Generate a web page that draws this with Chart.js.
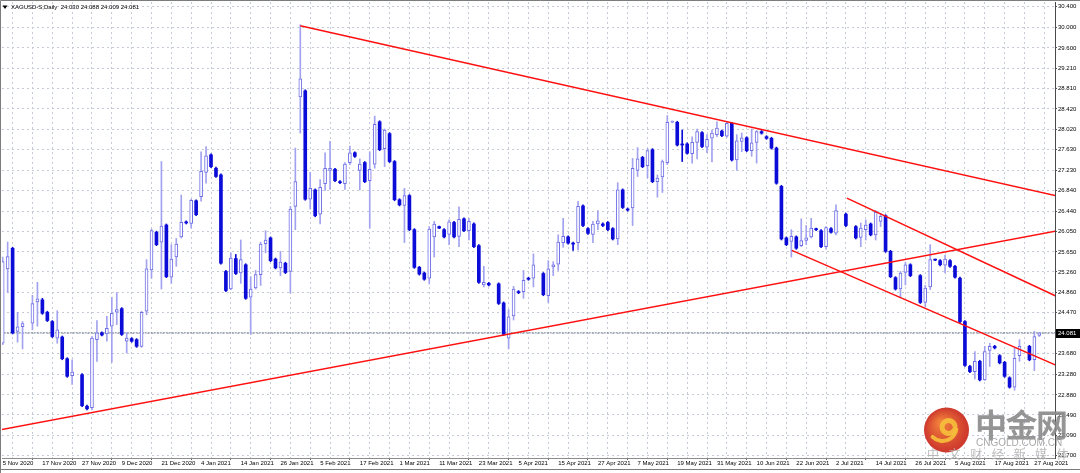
<!DOCTYPE html>
<html>
<head>
<meta charset="utf-8">
<script src="https://cdn.jsdelivr.net/npm/chart.js@4.4.0/dist/chart.umd.min.js"></script>
<style>
  html, body { margin: 0; padding: 0; background: #fff; }
  #wrap { width: 1080px; height: 473px; }
</style>
</head>
<body>
<div id="wrap"><canvas id="xagChart" width="1080" height="473"></canvas></div>
<script>
// XAGUSD-S daily bars, one entry per bar (null = no bar visible)
const opens = [
  23.88, 25.32, 25.72, 24.11, 24.20, null, 24.27, 24.68, 24.72, 24.48,
  24.30, 23.98, 24.00, 23.58, 23.25, null, 23.27, 22.66, 22.63, 23.95,
  24.08, 24.06, 24.21, 24.48, 24.55, 23.92, 23.97, 23.95, 23.82, 24.50,
  25.30, 26.03, 25.84, 26.17, 25.16, 25.55, 25.94, 26.23, 26.20, 26.64,
  26.72, 27.19, 27.53, 27.27, 27.14, 25.27, 24.93, 25.52, 25.24, 25.40,
  24.77, 24.95, 25.21, 25.81, 25.92, 25.51, 25.34, 25.43, 25.27, 26.53,
  28.65, 28.77, 26.67, 26.85, 26.38, 26.97, 27.23, 27.25, 27.01, 26.97,
  27.38, 27.57, 27.23, 27.38, 27.03, 27.35, 28.17, 27.65, 27.94, 27.40,
  26.66, 26.55, 26.74, 26.08, 25.35, 25.24, 25.14, 25.94, 26.14, 26.08,
  25.99, 26.22, 25.95, 26.29, 26.06, 26.19, 25.77, 25.01, 25.04, null,
  25.03, 24.66, 23.98, 24.41, 24.88, 24.88, 25.14, 25.14, null, 25.23,
  24.80, 25.36, 25.41, 25.83, 25.94, 25.82, 25.83, 26.54, 26.10, 25.99,
  26.19, 26.19, 26.22, 26.10, 25.90, 26.85, 26.48, 26.50, 27.23, 27.48,
  27.32, 27.63, 27.01, 27.10, 27.38, 28.16, 28.16, 27.74, 27.74, 27.55,
  27.77, 27.96, 27.68, 27.85, 27.92, 27.99, 27.89, 28.14, 27.43, 27.79,
  27.86, 27.61, 27.77, 27.98, 27.88, 27.85, 27.66, 26.92, 25.92, 25.85,
  25.94, 25.77, 25.87, 25.94, 26.09, 26.06, 25.75, 26.10, 26.01, null,
  26.38, null, 26.14, 25.93, 26.08, 26.19, 25.98, 26.24, 26.35, 25.66,
  25.15, 24.93, 25.25, 25.40, null, 25.19, 24.67, 24.97, 25.50, 25.48,
  25.39, 25.48, 25.37, 25.14, 24.30, 23.43, 23.33, 23.53, 23.17, 23.74,
  23.82, 23.64, 23.51, 23.21, 23.03, 23.64, null, 23.82, 23.56, 24.030
];
const highs = [
  25.55, 25.84, 25.74, 24.48, 24.30, null, 24.81, 25.06, 24.75, 24.50,
  24.32, 24.51, 24.02, 23.60, 23.56, null, 23.29, 22.68, 24.01, 24.32,
  24.10, 24.40, 24.77, 24.86, 24.57, 24.08, 23.99, 23.97, 24.50, 25.50,
  26.09, 26.05, 27.40, 26.19, 25.79, 25.91, 26.75, 26.25, 26.67, 26.66,
  27.59, 27.69, 27.55, 27.29, 27.16, 25.29, 25.63, 25.60, 25.88, 25.42,
  25.17, 25.29, 25.84, 26.06, 25.94, 25.53, 25.66, 25.45, 26.53, 27.66,
  30.05, 28.79, 27.19, 26.87, 27.05, 27.57, 27.79, 27.27, 27.03, 27.38,
  27.70, 27.59, 27.45, 27.40, 27.59, 28.28, 28.19, 28.03, 27.96, 27.42,
  26.68, 26.88, 26.76, 26.10, 25.37, 25.26, 26.14, 26.24, 26.15, 26.10,
  26.27, 26.24, 26.52, 26.31, 26.30, 26.21, 25.79, 25.37, 25.06, null,
  25.05, 24.68, 24.53, 24.98, 24.90, 25.29, 25.16, 25.61, null, 25.25,
  25.48, 25.46, 25.98, 26.30, 25.96, 25.84, 26.63, 26.56, 26.12, 26.24,
  26.45, 26.21, 26.24, 26.12, 26.99, 26.87, 26.50, 27.46, 27.67, 27.50,
  27.65, 27.65, 27.14, 27.43, 28.29, 28.19, 28.18, 28.01, 27.76, 27.88,
  28.03, 27.98, 27.92, 28.01, 28.17, 28.01, 28.16, 28.16, 27.92, 27.95,
  27.88, 28.03, 28.00, 28.00, 27.90, 27.87, 27.68, 26.94, 25.94, 26.08,
  25.96, 26.29, 26.16, 26.30, 26.11, 26.08, 26.14, 26.12, 26.56, null,
  26.40, null, 26.16, 26.21, 26.27, 26.21, 26.45, 26.40, 26.37, 25.68,
  25.17, 25.27, 25.45, 25.42, null, 25.21, 25.00, 25.79, 25.51, 25.50,
  25.59, 25.50, 25.39, 25.16, 24.32, 23.45, 23.72, 23.55, 23.82, 23.88,
  23.84, 23.66, 23.53, 23.23, 23.79, 23.95, null, 23.84, 24.11, 24.088
];
const lows = [
  23.85, 24.86, 24.06, 23.90, 23.77, null, 24.14, 24.21, 24.44, 24.30,
  23.99, 23.88, 23.56, 23.22, 23.08, null, 22.65, 22.59, 22.59, 23.53,
  24.02, 23.92, 23.51, 24.24, 24.03, 23.69, 23.90, 23.80, 23.80, 24.43,
  25.14, 25.77, 24.93, 25.15, 25.04, 25.37, 25.92, 26.19, 26.11, 26.35,
  26.63, 26.98, 27.28, 27.09, 25.41, 24.88, 24.92, 25.21, 25.04, 24.73,
  24.05, 24.93, 25.00, 25.63, 25.46, 25.32, 25.19, 25.23, 24.85, 26.08,
  27.95, 26.65, 26.48, 26.33, 26.19, 26.84, 26.86, 27.01, 26.97, 26.86,
  27.34, 27.48, 26.85, 26.99, 26.11, 27.27, 27.61, 27.30, 27.38, 26.64,
  26.54, 25.83, 26.06, 25.33, 25.20, 25.10, 25.03, 25.55, 26.10, 25.92,
  25.79, 25.92, 25.75, 26.04, 25.88, 25.73, 25.04, 24.97, 24.99, null,
  24.63, 24.03, 23.77, 24.33, 24.84, 24.75, 25.10, 24.97, null, 24.80,
  24.67, 25.19, 25.29, 25.74, 25.80, 25.68, 25.69, 26.14, 25.99, 25.83,
  26.08, 26.14, 26.06, 25.88, 25.79, 26.49, 26.44, 26.16, 27.11, 27.28,
  27.08, 26.99, 26.71, 26.80, 27.34, 28.15, 27.70, 27.40, 27.54, 27.37,
  27.45, 27.67, 27.57, 27.39, 27.88, 27.88, 27.87, 27.41, 27.23, 27.59,
  27.59, 27.50, 27.37, 27.93, 27.83, 27.64, 26.96, 25.88, 25.77, 25.55,
  25.70, 25.75, 25.79, 25.92, 26.06, 25.73, 25.70, 26.01, 25.98, null,
  26.14, null, 25.90, 25.75, 25.88, 25.96, 25.88, 26.14, 25.64, 25.15,
  24.91, 24.77, 25.01, 25.17, null, 24.65, 24.59, 24.92, 25.48, 25.38,
  25.24, 25.35, 25.14, 24.28, 23.43, 23.31, 23.19, 23.15, 23.16, 23.43,
  23.77, 23.48, 23.22, 23.01, 22.97, 23.53, null, 23.54, 23.35, 24.009
];
const closes = [
  25.46, 25.56, 24.08, 24.20, 24.26, null, 24.65, 24.74, 24.46, 24.32,
  24.01, 24.14, 23.58, 23.24, 23.32, null, 22.67, 22.61, 23.98, 24.08,
  24.04, 24.17, 24.46, 24.53, 24.05, 23.98, 23.92, 23.82, 24.48, 25.32,
  26.06, 25.79, 26.15, 25.17, 25.51, 25.80, 26.22, 26.21, 26.65, 26.37,
  27.21, 27.51, 27.30, 27.11, 25.43, 24.90, 25.53, 25.23, 25.50, 24.75,
  24.93, 25.21, 25.80, 25.88, 25.48, 25.34, 25.45, 25.25, 26.48, 27.01,
  29.00, 26.67, 26.88, 26.35, 26.90, 27.27, 27.27, 27.03, 26.99, 27.35,
  27.57, 27.50, 27.35, 27.01, 27.25, 28.12, 27.63, 28.01, 27.40, 26.66,
  26.56, 26.74, 26.08, 25.35, 25.22, 25.12, 26.09, 26.19, 26.11, 25.94,
  26.23, 25.94, 26.28, 26.06, 26.24, 25.75, 25.06, 25.06, 25.01, null,
  24.65, 24.05, 24.39, 24.93, 24.86, 25.10, 25.12, 25.40, null, 24.82,
  25.32, 25.40, 25.84, 25.95, 25.82, 25.80, 26.53, 26.16, 26.01, 26.19,
  26.25, 26.16, 26.08, 25.90, 26.85, 26.51, 26.46, 27.27, 27.45, 27.30,
  27.61, 27.01, 27.08, 27.40, 28.16, 28.18, 27.72, 27.72, 27.56, 27.77,
  27.98, 27.69, 27.83, 27.95, 28.05, 27.90, 28.14, 27.43, 27.80, 27.86,
  27.61, 27.76, 27.98, 27.95, 27.85, 27.66, 26.98, 25.90, 25.79, 25.95,
  25.72, 25.87, 25.92, 26.11, 26.08, 25.75, 26.12, 26.03, 26.45, null,
  26.16, null, 25.92, 26.11, 26.17, 25.98, 26.42, 26.34, 25.66, 25.17,
  24.93, 25.24, 25.40, 25.19, null, 24.67, 24.95, 25.50, 25.49, 25.40,
  25.51, 25.37, 25.16, 24.30, 23.45, 23.33, 23.53, 23.17, 23.72, 23.82,
  23.79, 23.50, 23.24, 23.03, 23.59, 23.82, null, 23.56, 24.01, 24.081
];

// date labels, one every 8 bars starting at bar 0
const dateTicks = [
  '5 Nov 2020', '17 Nov 2020', '27 Nov 2020', '9 Dec 2020', '21 Dec 2020',
  '4 Jan 2021', '14 Jan 2021', '26 Jan 2021', '5 Feb 2021', '17 Feb 2021',
  '1 Mar 2021', '11 Mar 2021', '23 Mar 2021', '5 Apr 2021', '15 Apr 2021',
  '27 Apr 2021', '7 May 2021', '19 May 2021', '31 May 2021', '10 Jun 2021',
  '22 Jun 2021', '2 Jul 2021', '14 Jul 2021', '26 Jul 2021', '5 Aug 2021',
  '17 Aug 2021', '27 Aug 2021'
];
// price scale labels as MT4 prints them
const priceTicks = [
  '30.400', '30.000', '29.600', '29.210', '28.810', '28.420', '28.020', '27.630',
  '27.230', '26.840', '26.440', '26.050', '25.650', '25.260', '24.860', '24.470',
  '24.070', '23.680', '23.280', '22.880', '22.490', '22.090', '21.700'
];
const lastQuote = { open: 24.030, high: 24.088, low: 24.009, close: 24.081 };

// red trend lines: [bar index, price] at both ends
const trendTop = [[60, 30.03], [212.2, 26.74]];
const trendBase = [[-0.2, 22.21], [212.2, 26.05]];
const channelLow = [[159.1, 25.68], [212.2, 23.46]];
const channelHigh = [[170.2, 26.69], [212.2, 24.80]];

const BULL_EDGE = '#6e6ee6';
const BULL_WICK = '#a2a2f0';
const BEAR = '#0c0cd8';
const GRID = '#c4cad6';
const FONT = '"Liberation Sans", Arial, sans-serif';

// split bars into up / down bodies and wicks
const bullBody = [], bearBody = [], bullWick = [], bearWick = [];
opens.forEach((o, i) => {
  if (o === null) return;
  const c = closes[i];
  const body = { x: i, y: [o, c] };
  const wick = { x: i, y: [lows[i], highs[i]] };
  if (c >= o) { bullBody.push(body); bullWick.push(wick); }
  else { bearBody.push(body); bearWick.push(wick); }
});

const toPoints = line => line.map(p => ({ x: p[0], y: p[1] }));
const trendSet = (line) => ({
  type: 'line',
  data: toPoints(line),
  borderColor: '#ff1010',
  borderWidth: 1.5,
  pointRadius: 0,
  order: 0
});

const overlay = {
  id: 'overlay',
  afterDraw(chart) {
    const ctx = chart.ctx;
    const yScale = chart.scales.y;
    ctx.save();

    // window frame
    ctx.strokeStyle = '#7c7c7c';
    ctx.lineWidth = 1;
    ctx.beginPath();
    ctx.moveTo(0.5, 473); ctx.lineTo(0.5, 0.5); ctx.lineTo(1080, 0.5);
    ctx.moveTo(0, 469.5); ctx.lineTo(1080, 469.5);
    ctx.stroke();

    // symbol header
    ctx.fillStyle = '#000';
    ctx.beginPath();
    ctx.moveTo(2.5, 5.5); ctx.lineTo(7.5, 5.5); ctx.lineTo(5, 9);
    ctx.closePath(); ctx.fill();
    ctx.font = '6px ' + FONT;
    ctx.textBaseline = 'middle';
    ctx.fillText('XAGUSD-S,Daily  ' + lastQuote.open.toFixed(3) + ' ' + lastQuote.high.toFixed(3) + ' ' +
      lastQuote.low.toFixed(3) + ' ' + lastQuote.close.toFixed(3), 11, 7.5);

    // last price tag
    const py = yScale.getPixelForValue(lastQuote.close);
    ctx.fillStyle = '#000';
    ctx.fillRect(1056, Math.round(py) - 4, 24, 9);
    ctx.fillStyle = '#fff';
    ctx.fillText(lastQuote.close.toFixed(3), 1058, Math.round(py) + 0.5);

    // watermark
    ctx.globalAlpha = 0.92;
    const cx = 946.5, cy = 430, r = 22.5;
    const g = ctx.createRadialGradient(cx - 6, cy - 8, 2, cx, cy, r);
    g.addColorStop(0, '#f0732a');
    g.addColorStop(1, '#c9261b');
    ctx.fillStyle = g;
    ctx.beginPath(); ctx.arc(cx, cy, r, 0, Math.PI * 2); ctx.fill();
    ctx.strokeStyle = '#f6bf3c';
    ctx.lineCap = 'round';
    ctx.lineWidth = 5;
    ctx.beginPath(); ctx.arc(cx + 2, cy - 3, 6.5, Math.PI * 0.15, Math.PI * 1.95); ctx.stroke();
    ctx.lineWidth = 4;
    ctx.beginPath(); ctx.arc(cx - 4, cy - 3, 14, Math.PI * 0.05, Math.PI * 0.75); ctx.stroke();

    ctx.globalAlpha = 0.9;
    ctx.fillStyle = '#8a8a8a';
    ctx.font = 'bold 32px "Noto Sans CJK SC"';
    ctx.textBaseline = 'alphabetic';
    ['中', '金', '网'].forEach((ch, k) => ctx.fillText(ch, 975 + k * 30.5, 437));
    ctx.font = '10px ' + FONT;
    ctx.fillStyle = '#a0a0a0';
    ctx.fillText('CNGOLD.COM.CN', 976, 445.5);
    ctx.font = '12px "Noto Sans CJK SC"';
    ctx.fillStyle = '#b4b4b4';
    ['中', '文', '财', '经', '新', '媒', '体'].forEach((ch, k) => ctx.fillText(ch, 927 + k * 21.6, 459));
    ctx.restore();
  }
};

new Chart(document.getElementById('xagChart'), {
  type: 'bar',
  data: {
    datasets: [
      trendSet(trendTop),
      trendSet(trendBase),
      trendSet(channelLow),
      trendSet(channelHigh),
      {
        label: 'up body', data: bullBody, grouped: false, order: 1,
        backgroundColor: '#ffffff', borderColor: BULL_EDGE, borderWidth: 1,
        borderSkipped: false, barThickness: 3, minBarLength: 1
      },
      {
        label: 'down body', data: bearBody, grouped: false, order: 1,
        backgroundColor: BEAR, borderColor: BEAR, borderWidth: 0,
        borderSkipped: false, barThickness: 3, minBarLength: 1
      },
      {
        label: 'up wick', data: bullWick, grouped: false, order: 2,
        backgroundColor: BULL_WICK, borderWidth: 0, barThickness: 1
      },
      {
        label: 'down wick', data: bearWick, grouped: false, order: 2,
        backgroundColor: BEAR, borderWidth: 0, barThickness: 1
      },
      {
        type: 'line', label: 'bid',
        data: [{ x: -1, y: lastQuote.close }, { x: 214, y: lastQuote.close }],
        borderColor: '#6f7b8c', borderWidth: 1, borderDash: [2, 1],
        pointRadius: 0, order: 3
      }
    ]
  },
  options: {
    responsive: false,
    animation: false,
    devicePixelRatio: 1,
    events: [],
    layout: { padding: { left: 2, top: 2, right: 0, bottom: 0 } },
    plugins: { legend: { display: false }, tooltip: { enabled: false }, title: { display: false } },
    scales: {
      x: {
        type: 'linear', min: -0.14, max: 212.16, offset: false,
        afterBuildTicks: s => {
          const t = [];
          for (let v = 0; v <= 208; v += 4) t.push({ value: v });
          s.ticks = t;
        },
        afterFit: s => { s.height = 15; s.paddingLeft = 0; s.paddingRight = 0; },
        grid: {
          color: GRID, tickLength: 2,
          tickColor: c => (c.tick && c.tick.value % 8 === 0 ? '#666' : 'rgba(0,0,0,0)')
        },
        border: { display: true, color: '#8c8c8c', dash: [2, 3] },
        ticks: {
          autoSkip: false, maxRotation: 0, minRotation: 0, align: 'start', padding: 0,
          color: '#000', font: { family: FONT, size: 6 },
          callback: v => (v % 8 === 0 ? dateTicks[v / 8] : '')
        }
      },
      y: {
        type: 'linear', position: 'right', min: 21.657, max: 30.49,
        afterBuildTicks: s => { s.ticks = priceTicks.map(t => ({ value: parseFloat(t) })); },
        afterFit: s => { s.width = 25; s.paddingTop = 0; s.paddingBottom = 0; },
        grid: { color: GRID, tickLength: 2, tickColor: '#555' },
        border: { display: true, color: '#4a4a4a', dash: [2, 3] },
        ticks: {
          padding: 1, color: '#000', font: { family: FONT, size: 6 },
          callback: v => v.toFixed(3)
        }
      }
    }
  },
  plugins: [overlay]
});
</script>
</body>
</html>
